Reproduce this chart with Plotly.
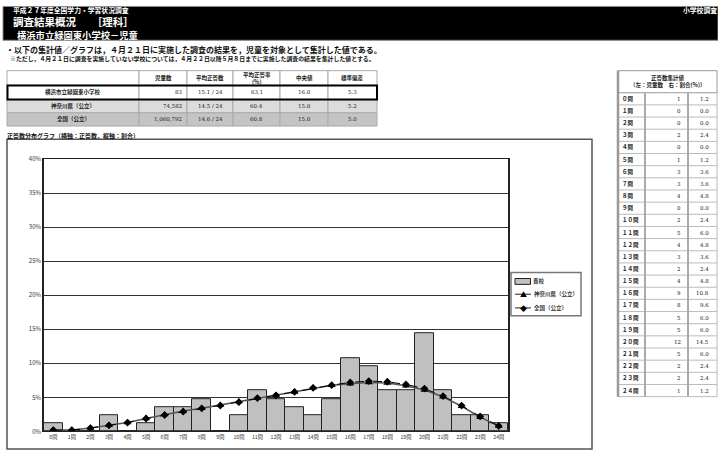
import plotly.graph_objects as go

W, H = 718, 457
FONT = "Noto Sans CJK JP"
NUMFONT = "DejaVu Serif"

# ---------------- data ----------------
questions = [f"{i}問" for i in range(25)]
questions_fw = ["０問", "１問", "２問", "３問", "４問", "５問", "６問", "７問", "８問", "９問",
                "１０問", "１１問", "１２問", "１３問", "１４問", "１５問", "１６問", "１７問",
                "１８問", "１９問", "２０問", "２１問", "２２問", "２３問", "２４問"]
school_counts = [1, 0, 0, 2, 0, 1, 3, 3, 4, 0, 2, 5, 4, 3, 2, 4, 9, 8, 5, 5, 12, 5, 2, 2, 1]
school_pct = [1.2, 0.0, 0.0, 2.4, 0.0, 1.2, 3.6, 3.6, 4.8, 0.0, 2.4, 6.0, 4.8, 3.6, 2.4,
              4.8, 10.8, 9.6, 6.0, 6.0, 14.5, 6.0, 2.4, 2.4, 1.2]
pref_pct = [0.2, 0.2, 0.5, 0.9, 1.3, 1.9, 2.5, 3.0, 3.4, 3.9, 4.4, 4.9, 5.3, 5.8, 6.4,
            6.8, 7.0, 7.2, 7.1, 6.7, 6.1, 5.1, 3.7, 2.1, 0.8]
nat_pct = [0.2, 0.2, 0.5, 0.9, 1.3, 1.9, 2.4, 2.9, 3.4, 3.8, 4.3, 4.9, 5.3, 5.8, 6.4,
           6.8, 7.2, 7.4, 7.3, 6.9, 6.3, 5.2, 3.8, 2.2, 0.8]
y_ticks = [0, 5, 10, 15, 20, 25, 30, 35, 40]
legend_names = ["貴校", "神奈川県（公立）", "全国（公立）"]

table_header = ["", "児童数", "平均正答数", "平均正答率<br>(%)", "中央値", "標準偏差"]
row_names = ["横浜市立緑園東小学校", "神奈川県（公立）", "全国（公立）"]
n_students = ["83", "74,582", "1,060,792"]
avg_correct = ["15.1 / 24", "14.5 / 24", "14.6 / 24"]
avg_rate = ["63.1", "60.4", "60.8"]
median = ["16.0", "15.0", "15.0"]
std_dev = ["5.3", "5.2", "5.0"]
right_title = ["正答数集計値", "（左：児童数　右：割合(%)）"]


def fx(p):
    return p / W


def fy(p):
    return 1 - p / H


def txt(x, y, s, size, color="#111", anchor="left", weight="bold", family=FONT):
    return dict(xref="paper", yref="paper", x=fx(x), y=fy(y), text=s, showarrow=False,
                xanchor=anchor, yanchor="middle", borderpad=0,
                font=dict(family=family, size=size, color=color, weight=weight))


def rect(x0, y0, x1, y1, fill=None, lc="#999", lw=1):
    d = dict(type="rect", xref="paper", yref="paper", x0=fx(x0), x1=fx(x1), y0=fy(y1), y1=fy(y0),
             line=dict(color=lc, width=lw))
    if fill:
        d["fillcolor"] = fill
    return d


def line(x0, y0, x1, y1, lc="#999", lw=1):
    return dict(type="line", xref="paper", yref="paper", x0=fx(x0), x1=fx(x1), y0=fy(y0), y1=fy(y1),
                line=dict(color=lc, width=lw))


fig = go.Figure()

# ---------------- chart ----------------
fig.add_trace(go.Bar(
    x=questions, y=school_pct, name=legend_names[0], showlegend=False,
    marker=dict(color="#c0c0c0", line=dict(color="#222", width=1)),
))
fig.add_trace(go.Scatter(
    x=questions, y=pref_pct, name=legend_names[1], mode="lines+markers", showlegend=False,
    line=dict(color="#555", width=1.5),
    marker=dict(symbol="triangle-up", size=7, color="#000"),
))
fig.add_trace(go.Scatter(
    x=questions, y=nat_pct, name=legend_names[2], mode="lines+markers", showlegend=False,
    line=dict(color="#000", width=1, dash="dash"),
    marker=dict(symbol="diamond", size=6, color="#000"),
))

shapes = []
annotations = []

# header band
shapes.append(rect(3, 1.5, 718, 36, fill="#000", lc="#888", lw=1))
annotations += [
    txt(12, 5.5, "平成２７年度全国学力・学習状況調査", 6.8, "#fff"),
    txt(12, 16.5, "調査結果概況　　［理科］", 10.5, "#fff"),
    txt(16, 30.5, "横浜市立緑園東小学校－児童", 9.3, "#fff"),
    txt(718, 5.5, "小学校調査", 6.8, "#fff", anchor="right"),
    txt(5, 45, "・以下の集計値／グラフは，４月２１日に実施した調査の結果を，児童を対象として集計した値である。", 8),
    txt(9, 55, "※ただし，４月２１日に調査を実施していない学校については，４月２２日以降５月８日までに実施した調査の結果を集計した値とする。", 5.9),
    txt(6, 133.5, "正答数分布グラフ（横軸：正答数，縦軸：割合）", 6),
]

# ---------------- main table (cells) ----------------
col_x = [7, 139, 187, 233, 280, 328, 377]
row_y = [67, 82, 96.5, 110, 123.5]
row_fill = ["#ffffff", "#ffffff", "#dcdcdc", "#c4c4c4"]
columns = [row_names, n_students, avg_correct, avg_rate, median, std_dev]
for r in range(4):
    for c in range(6):
        shapes.append(rect(col_x[c], row_y[r], col_x[c + 1], row_y[r + 1], fill=row_fill[r], lc="#aaa", lw=1))
for c in range(6):
    cx = (col_x[c] + col_x[c + 1]) / 2
    if table_header[c]:
        annotations.append(txt(cx, (row_y[0] + row_y[1]) / 2, table_header[c], 5.5, "#222", anchor="center"))
    for r in range(3):
        cy = (row_y[r + 1] + row_y[r + 2]) / 2
        if c == 0:
            annotations.append(txt(cx, cy, columns[c][r], 5.5, "#222", anchor="center"))
        elif c == 1:
            annotations.append(txt(col_x[c + 1] - 4, cy, columns[c][r], 5.5, "#222", anchor="right",
                                   weight="normal", family=NUMFONT))
        else:
            annotations.append(txt(cx, cy, columns[c][r], 5.5, "#222", anchor="center",
                                   weight="normal", family=NUMFONT))
shapes.append(rect(7.5, 82, 377, 96.5, lc="#000", lw=2))

# ---------------- right table (cells) ----------------
rcol_x = [618, 645, 688, 717]
rtop, rhead, rstep = 67, 89.5, 12.4
shapes.append(rect(rcol_x[0], rtop, rcol_x[3], rhead, fill="#fff", lc="#999", lw=1))
annotations.append(txt((rcol_x[0] + rcol_x[3]) / 2, 74, right_title[0], 5.5, "#222", anchor="center"))
annotations.append(txt((rcol_x[0] + rcol_x[3]) / 2, 81.5, right_title[1], 5.5, "#222", anchor="center"))
for i in range(len(questions_fw)):
    y0 = rhead + i * rstep
    y1 = y0 + rstep
    cy = (y0 + y1) / 2
    shapes.append(line(rcol_x[0], y1, rcol_x[3], y1, lc="#bbb", lw=1))
    annotations.append(txt(rcol_x[0] + 3, cy, questions_fw[i], 5.5, "#222"))
    annotations.append(txt(rcol_x[2] - 6, cy, str(school_counts[i]), 5.5, "#222", anchor="right",
                           weight="normal", family=NUMFONT))
    annotations.append(txt(rcol_x[3] - 7, cy, f"{school_pct[i]:.1f}", 5.5, "#222", anchor="right",
                           weight="normal", family=NUMFONT))
rbottom = rhead + len(questions_fw) * rstep
shapes.append(line(rcol_x[1], rhead, rcol_x[1], rbottom, lc="#aaa", lw=2))
shapes.append(line(rcol_x[2], rhead, rcol_x[2], rbottom, lc="#aaa", lw=2))
shapes.append(line(rcol_x[3], rhead, rcol_x[3], rbottom, lc="#bbb", lw=1))
shapes.append(line(rcol_x[0], rtop, rcol_x[0], rbottom, lc="#999", lw=2.5))

# chart frame
shapes.append(rect(7, 137, 592, 453, lc="#555", lw=1.5))

# custom legend
shapes += [
    rect(511, 273, 581, 317, fill="#fff", lc="#777", lw=1.5),
    rect(515, 279, 530.5, 285, fill="#c0c0c0", lc="#222", lw=1),
    line(515, 295, 531, 295, lc="#222", lw=1),
    line(515, 309, 531, 309, lc="#222", lw=1),
]
annotations += [
    txt(532, 282, legend_names[0], 5.5, "#333"),
    txt(533, 295, legend_names[1], 5.5, "#333"),
    txt(533, 309, legend_names[2], 5.5, "#333"),
    txt(523, 294.5, "▲", 7, "#000", anchor="center", weight="normal"),
    txt(523, 309, "◆", 7, "#000", anchor="center", weight="normal"),
]

fig.update_layout(
    width=W, height=H,
    margin=dict(l=0, r=0, t=0, b=0),
    paper_bgcolor="#fff", plot_bgcolor="#fff",
    bargap=0,
    shapes=shapes, annotations=annotations,
    showlegend=False,
    xaxis=dict(domain=[fx(44), fx(508)], anchor="y", range=[-0.5, 24.5],
               showline=True, linecolor="#222", linewidth=1, mirror=True,
               showgrid=False, ticks="",
               tickfont=dict(family=FONT, size=5.2, color="#333")),
    yaxis=dict(domain=[fy(435), fy(157.3)], anchor="x", range=[0, 40],
               tickvals=y_ticks, ticktext=[f"{v}%" for v in y_ticks],
               showline=True, linecolor="#222", linewidth=1.5, mirror=True,
               showgrid=True, gridcolor="#333", gridwidth=1, zeroline=False, ticks="",
               tickfont=dict(family=FONT, size=6, color="#333")),
)

fig.write_html("out.html", config={"displayModeBar": False},
               post_script="document.body.style.margin='0';")
